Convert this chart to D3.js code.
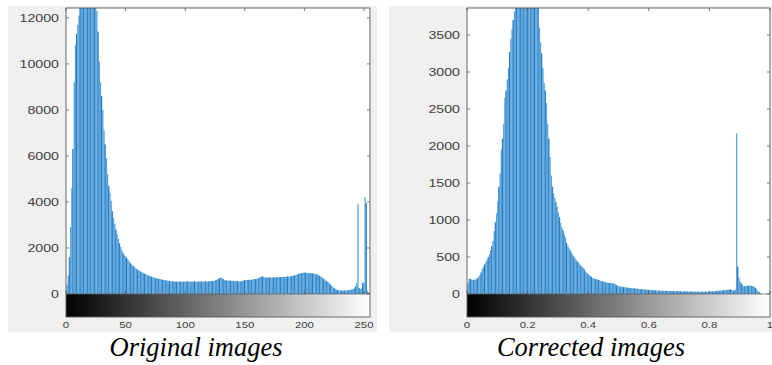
<!DOCTYPE html>
<html>
<head>
<meta charset="utf-8">
<script src="https://cdn.jsdelivr.net/npm/d3@7.9.0/dist/d3.min.js"></script>
<style>
  html, body { margin: 0; padding: 0; background: #fff; }
  svg { display: block; }
</style>
</head>
<body>
<svg id="chart" width="772" height="365"></svg>
<script>
// === Data ===
const captions = ['Original images', 'Corrected images'];

// 256-bin histogram of the original (uint8) images, bins 0..255
const originalCounts = [
  150, 400, 800, 1600, 2900, 4600, 6300, 9200, 10800, 11300,
  11700, 12100, 12700, 13300, 13800, 14200, 14500, 14600, 14700, 14600,
  14500, 14300, 14000, 13700, 13300, 12900, 12300, 11400, 10100, 9200,
  8600, 8000, 7100, 6500, 5900, 5200, 4700, 4400, 4050, 3600,
  3300, 3050, 2800, 2600, 2400, 2200, 2050, 1900, 1780, 1700,
  1630, 1570, 1500, 1420, 1350, 1290, 1240, 1200, 1150, 1100,
  1060, 1030, 1000, 970, 940, 910, 880, 860, 840, 810,
  790, 770, 750, 730, 710, 690, 680, 670, 660, 640,
  630, 620, 610, 600, 590, 580, 570, 560, 550, 550,
  545, 540, 540, 535, 540, 535, 540, 530, 540, 535,
  540, 545, 540, 535, 540, 530, 535, 540, 545, 540,
  530, 535, 540, 545, 540, 535, 540, 545, 550, 545,
  550, 560, 555, 560, 570, 580, 600, 630, 660, 690,
  710, 690, 650, 610, 590, 580, 585, 575, 580, 570,
  575, 565, 570, 560, 550, 545, 540, 550, 560, 580,
  600, 605, 610, 615, 610, 615, 620, 630, 640, 650,
  660, 680, 700, 730, 750, 760, 740, 720, 710, 720,
  710, 715, 720, 710, 720, 730, 720, 725, 730, 740,
  735, 730, 740, 745, 740, 750, 760, 755, 760, 770,
  790, 800, 810, 830, 850, 870, 890, 900, 910, 920,
  930, 925, 920, 915, 910, 905, 900, 895, 890, 880,
  860, 840, 820, 790, 750, 710, 670, 630, 590, 550,
  510, 460, 410, 360, 310, 260, 220, 190, 170, 160,
  150, 150, 145, 150, 155, 150, 150, 160, 170, 180,
  200, 220, 250, 330, 470, 3900, 260, 200, 250, 480,
  500, 4200, 3950, 150, 60, 30
];

// 256-bin histogram of the corrected (double, 0..1) images
const correctedCounts = [
  60, 150, 210, 200, 195, 190, 192, 196, 200, 215,
  235, 255, 290, 340, 370, 400, 430, 460, 500, 540,
  590, 650, 720, 850, 970, 1090, 1250, 1450, 1630, 1950,
  2100, 2300, 2650, 2750, 2900, 3050, 3270, 3450, 3580, 3700,
  3820, 3950, 4050, 4150, 4250, 4300, 4350, 4400, 4420, 4450,
  4460, 4450, 4420, 4400, 4350, 4300, 4250, 4200, 4100, 4000,
  3900, 3600, 3400, 3250, 3050, 2850, 2750, 2580, 2300, 2100,
  1850, 1600, 1450, 1360, 1300, 1240, 1180, 1100, 1040, 960,
  900, 860, 800, 760, 690, 650, 620, 590, 560, 530,
  505, 480, 460, 440, 420, 400, 380, 370, 350, 330,
  300, 285, 270, 255, 245, 230, 215, 210, 205, 200,
  195, 190, 180, 175, 170, 166, 160, 158, 155, 150,
  148, 152, 146, 144, 138, 130, 120, 112, 104, 99,
  98, 96, 94, 90, 88, 86, 84, 82, 80, 78,
  77, 75, 74, 72, 70, 68, 66, 65, 64, 62,
  60, 58, 57, 56, 55, 54, 53, 52, 50, 48,
  46, 45, 44, 44, 43, 43, 42, 42, 41, 41,
  40, 40, 40, 39, 38, 38, 37, 37, 36, 36,
  35, 35, 35, 34, 34, 33, 33, 33, 32, 32,
  32, 31, 31, 31, 30, 30, 30, 30, 30, 30,
  30, 31, 31, 32, 32, 33, 34, 35, 36, 38,
  40, 42, 44, 45, 46, 48, 50, 52, 54, 56,
  58, 62, 60, 55, 50, 45, 60, 2170, 370, 220,
  170, 145, 120, 100, 105, 110, 112, 110, 115, 112,
  108, 105, 95, 80, 60, 40, 25, 12, 5, 0,
  0, 0, 0, 0, 0, 0
];

const originalYTicks = [0, 2000, 4000, 6000, 8000, 10000, 12000];
const correctedYTicks = [0, 500, 1000, 1500, 2000, 2500, 3000, 3500];
const originalXTicks = [0, 50, 100, 150, 200, 250];
const correctedXTicks = [0, 0.2, 0.4, 0.6, 0.8, 1];

const svg = d3.select('#chart');
const defs = svg.append('defs');

const grad = defs.append('linearGradient').attr('id', 'gray-ramp');
grad.append('stop').attr('offset', '0%').attr('stop-color', '#000');
grad.append('stop').attr('offset', '100%').attr('stop-color', '#fff');

const panels = [
  {
    id: 'orig', counts: originalCounts, xMax: 255, yMax: 12430,
    yTicks: originalYTicks, xTicks: originalXTicks,
    bg: [8, 6, 369, 326], left: 66, right: 370, caption: captions[0], capX: 196
  },
  {
    id: 'corr', counts: correctedCounts, xMax: 1, yMax: 3865,
    yTicks: correctedYTicks, xTicks: correctedXTicks,
    bg: [389, 6, 383, 326], left: 467, right: 770, caption: captions[1], capX: 591
  }
];

const plotTop = 8, zero = 294, barBottom = 317;

panels.forEach((p) => {
  const g = svg.append('g');

  // figure background
  g.append('rect')
    .attr('x', p.bg[0]).attr('y', p.bg[1])
    .attr('width', p.bg[2]).attr('height', p.bg[3])
    .attr('fill', '#f0f0f0');

  const x = d3.scaleLinear().domain([0, p.xMax]).range([p.left, p.right]);
  const y = d3.scaleLinear().domain([0, p.yMax]).range([zero, plotTop]);
  const n = p.counts.length;
  const step = p.xMax / (n - 1);
  const bw = x(step) - x(0);

  g.append('rect')
    .attr('x', p.left).attr('y', plotTop)
    .attr('width', p.right - p.left).attr('height', zero - plotTop)
    .attr('fill', '#fff');

  defs.append('clipPath').attr('id', 'clip-' + p.id)
    .append('rect')
    .attr('x', p.left).attr('y', plotTop)
    .attr('width', p.right - p.left).attr('height', zero - plotTop);

  const bars = g.append('g').attr('clip-path', `url(#clip-${p.id})`);

  bars.selectAll('rect')
    .data(p.counts)
    .join('rect')
    .attr('x', (d, i) => x(i * step) - bw / 2)
    .attr('width', bw)
    .attr('y', (d) => y(d))
    .attr('height', (d) => zero - y(d))
    .attr('fill', '#74b6e7');

  // darker stem at each bin, like the resampled stem plot
  bars.selectAll('line')
    .data(p.counts)
    .join('line')
    .attr('x1', (d, i) => x(i * step) - bw / 2 + 0.3)
    .attr('x2', (d, i) => x(i * step) - bw / 2 + 0.3)
    .attr('y1', zero)
    .attr('y2', (d) => y(d))
    .attr('stroke', '#1470ba')
    .attr('stroke-width', (d, i) => (i % 3 === 0 ? 0.9 : 0.35));

  // colour bar under the axis
  g.append('rect')
    .attr('x', p.left).attr('y', zero)
    .attr('width', p.right - p.left).attr('height', barBottom - zero)
    .attr('fill', 'url(#gray-ramp)');

  // frame
  g.append('rect')
    .attr('x', p.left).attr('y', plotTop)
    .attr('width', p.right - p.left).attr('height', barBottom - plotTop)
    .attr('fill', 'none')
    .attr('stroke', '#595959')
    .attr('stroke-width', 0.9);
  g.append('line')
    .attr('x1', p.left).attr('x2', p.right)
    .attr('y1', zero).attr('y2', zero)
    .attr('stroke', '#595959').attr('stroke-width', 0.7);

  // y ticks (inward, both sides) and labels
  p.yTicks.forEach((t) => {
    const yy = y(t);
    g.append('line').attr('x1', p.left).attr('x2', p.left + 3)
      .attr('y1', yy).attr('y2', yy).attr('stroke', '#595959').attr('stroke-width', 0.8);
    g.append('line').attr('x1', p.right).attr('x2', p.right - 3)
      .attr('y1', yy).attr('y2', yy).attr('stroke', '#595959').attr('stroke-width', 0.8);
    g.append('text')
      .attr('transform', `translate(${p.left - 7},${yy + 3.8}) scale(1.35,1)`)
      .attr('text-anchor', 'end')
      .attr('font-family', 'Liberation Sans, Arial, sans-serif')
      .attr('font-size', 10.5)
      .attr('fill', '#404040')
      .text(t);
  });

  // x ticks (inward at top and at the zero line) and labels
  p.xTicks.forEach((t) => {
    const xx = x(t);
    g.append('line').attr('x1', xx).attr('x2', xx)
      .attr('y1', plotTop).attr('y2', plotTop + 3).attr('stroke', '#595959').attr('stroke-width', 0.8);
    g.append('line').attr('x1', xx).attr('x2', xx)
      .attr('y1', zero).attr('y2', zero - 3).attr('stroke', '#595959').attr('stroke-width', 0.8);
    g.append('text')
      .attr('transform', `translate(${xx},${barBottom + 11}) scale(1.2,1)`)
      .attr('text-anchor', 'middle')
      .attr('font-family', 'Liberation Sans, Arial, sans-serif')
      .attr('font-size', 9.5)
      .attr('fill', '#404040')
      .text(t);
  });

  // caption
  svg.append('text')
    .attr('x', p.capX).attr('y', 356)
    .attr('text-anchor', 'middle')
    .attr('font-family', 'Liberation Serif, Times New Roman, serif')
    .attr('font-style', 'italic')
    .attr('font-size', 26.5)
    .attr('fill', '#000')
    .text(p.caption);
});
</script>
</body>
</html>
